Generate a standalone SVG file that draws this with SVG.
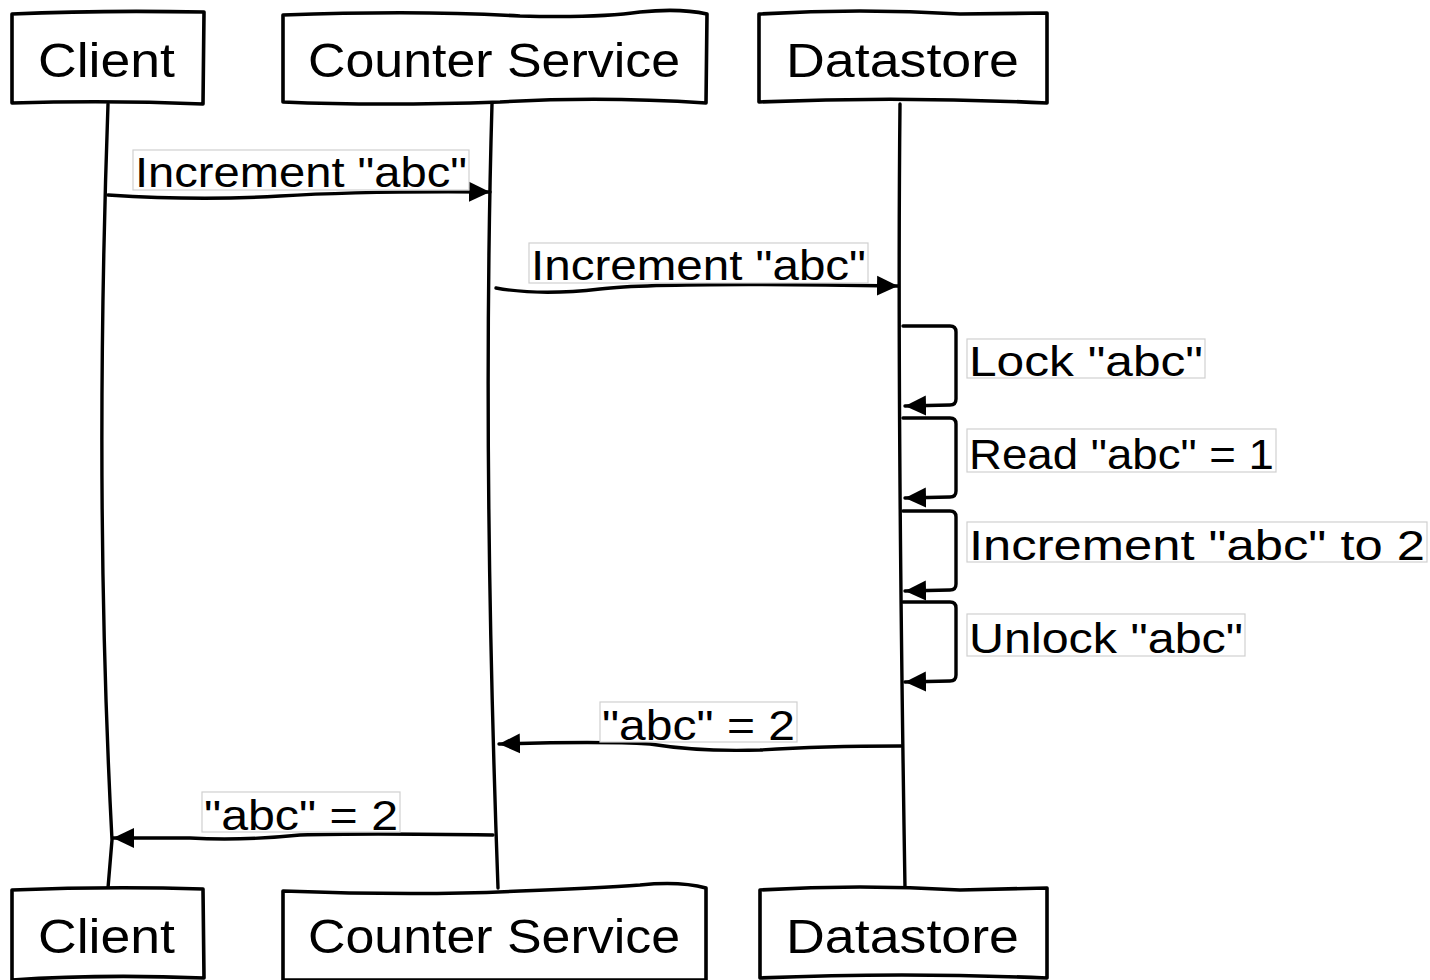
<svg xmlns="http://www.w3.org/2000/svg" width="1430" height="980" viewBox="0 0 1430 980">
  <style>
    .box { fill: #ffffff; stroke: #000000; stroke-width: 3.6; stroke-linejoin: round; }
    .life { fill: none; stroke: #000000; stroke-width: 3.4; stroke-linecap: round; }
    .msg { fill: none; stroke: #000000; stroke-width: 3.4; stroke-linecap: round; stroke-linejoin: round; marker-end: url(#head); }
    .pname { font-family: "Liberation Sans", "DejaVu Sans", sans-serif; font-size: 48px; fill: #000000; }
    .lbox { fill: #ffffff; stroke: #d0d0d0; stroke-width: 1.2; }
    .ltext { font-family: "Liberation Sans", "DejaVu Sans", sans-serif; font-size: 42px; fill: #000000; }
  </style>
  <defs>
    <marker id="head" markerUnits="userSpaceOnUse" markerWidth="26" markerHeight="24" refX="21" refY="11" orient="auto">
      <path d="M0,1 L21,11 L0,21 Z" fill="#000000"/>
    </marker>
  </defs>

  <rect width="1430" height="980" fill="#ffffff"/>

  <!-- lifelines -->
  <g id="lifelines">
    <path class="life" d="M108,104 Q 94,500 112,840 L 108,888"/>
    <path class="life" d="M492,104 Q 482,450 498,888"/>
    <path class="life" d="M900,104 Q 897,400 905,888"/>
  </g>

  <!-- participants, top row -->
  <g id="client-top">
    <path class="box" d="M12,14 Q 100,10 204,12 L 203,104 Q 110,100 12,103 Z"/>
    <text class="pname" x="38" y="77" textLength="137" lengthAdjust="spacingAndGlyphs">Client</text>
  </g>
  <g id="counter-top">
    <path class="box" d="M283,15 Q 420,10 520,16 Q 600,18 640,12 Q 680,8 707,14 L 706,103 Q 600,96 500,102 Q 380,106 283,102 Z"/>
    <text class="pname" x="308" y="77" textLength="372" lengthAdjust="spacingAndGlyphs">Counter Service</text>
  </g>
  <g id="datastore-top">
    <path class="box" d="M759,14 Q 860,8 960,14 L 1047,13 L 1047,103 Q 900,96 759,102 Z"/>
    <text class="pname" x="786" y="77" textLength="233" lengthAdjust="spacingAndGlyphs">Datastore</text>
  </g>

  <!-- participants, bottom row -->
  <g id="client-bottom">
    <path class="box" d="M12,890 Q 110,886 203,889 L 204,978 Q 100,974 12,980 Z"/>
    <text class="pname" x="38" y="953" textLength="137" lengthAdjust="spacingAndGlyphs">Client</text>
  </g>
  <g id="counter-bottom">
    <path class="box" d="M283,891 Q 420,896 520,891 Q 600,888 640,885 Q 680,881 706,888 L 706,980 L 283,980 Z"/>
    <text class="pname" x="308" y="953" textLength="372" lengthAdjust="spacingAndGlyphs">Counter Service</text>
  </g>
  <g id="datastore-bottom">
    <path class="box" d="M760,890 Q 860,884 960,890 L 1047,888 L 1047,978 Q 900,972 760,978 Z"/>
    <text class="pname" x="786" y="953" textLength="233" lengthAdjust="spacingAndGlyphs">Datastore</text>
  </g>

  <!-- messages -->
  <g id="connectors">
    <path class="msg" d="M108,195 Q 200,201 280,196 T 490,192"/>
    <path class="msg" d="M496,288 Q 540,296 600,289 T 898,286"/>
    <path class="msg" d="M903,326 L 950,326 Q 956,326 956,332 L 956,399 Q 956,405 950,405 L 905,406"/>
    <path class="msg" d="M903,418 L 950,418 Q 956,418 956,424 L 956,491 Q 956,497 950,497 L 905,498"/>
    <path class="msg" d="M903,511 L 950,511 Q 956,511 956,517 L 956,584 Q 956,590 950,590 L 905,591"/>
    <path class="msg" d="M903,602 L 950,602 Q 956,602 956,608 L 956,675 Q 956,681 950,681 L 905,682"/>
    <path class="msg" d="M901,746 Q 820,746 760,750 Q 700,752 650,744 Q 600,741 499,744"/>
    <path class="msg" d="M493,835 Q 360,833 300,835 Q 240,841 190,838 L 113,838"/>
  </g>

  <!-- message labels -->
  <g id="label-1">
    <rect class="lbox" x="133" y="150" width="336" height="40"/>
    <text class="ltext" x="135" y="187" textLength="332" lengthAdjust="spacingAndGlyphs">Increment "abc"</text>
  </g>
  <g id="label-2">
    <rect class="lbox" x="529" y="243" width="339" height="40"/>
    <text class="ltext" x="531" y="280" textLength="335" lengthAdjust="spacingAndGlyphs">Increment "abc"</text>
  </g>
  <g id="label-3">
    <rect class="lbox" x="967" y="339" width="238" height="39"/>
    <text class="ltext" x="969" y="376" textLength="234" lengthAdjust="spacingAndGlyphs">Lock "abc"</text>
  </g>
  <g id="label-4">
    <rect class="lbox" x="967" y="429" width="309" height="43"/>
    <text class="ltext" x="969" y="469" textLength="305" lengthAdjust="spacingAndGlyphs">Read "abc" = 1</text>
  </g>
  <g id="label-5">
    <rect class="lbox" x="967" y="522" width="460" height="40"/>
    <text class="ltext" x="969" y="560" textLength="456" lengthAdjust="spacingAndGlyphs">Increment "abc" to 2</text>
  </g>
  <g id="label-6">
    <rect class="lbox" x="967" y="614" width="278" height="42"/>
    <text class="ltext" x="969" y="653" textLength="274" lengthAdjust="spacingAndGlyphs">Unlock "abc"</text>
  </g>
  <g id="label-7">
    <rect class="lbox" x="600" y="702" width="197" height="40"/>
    <text class="ltext" x="602" y="740" textLength="193" lengthAdjust="spacingAndGlyphs">"abc" = 2</text>
  </g>
  <g id="label-8">
    <rect class="lbox" x="202" y="792" width="198" height="40"/>
    <text class="ltext" x="204" y="830" textLength="194" lengthAdjust="spacingAndGlyphs">"abc" = 2</text>
  </g>
</svg>
